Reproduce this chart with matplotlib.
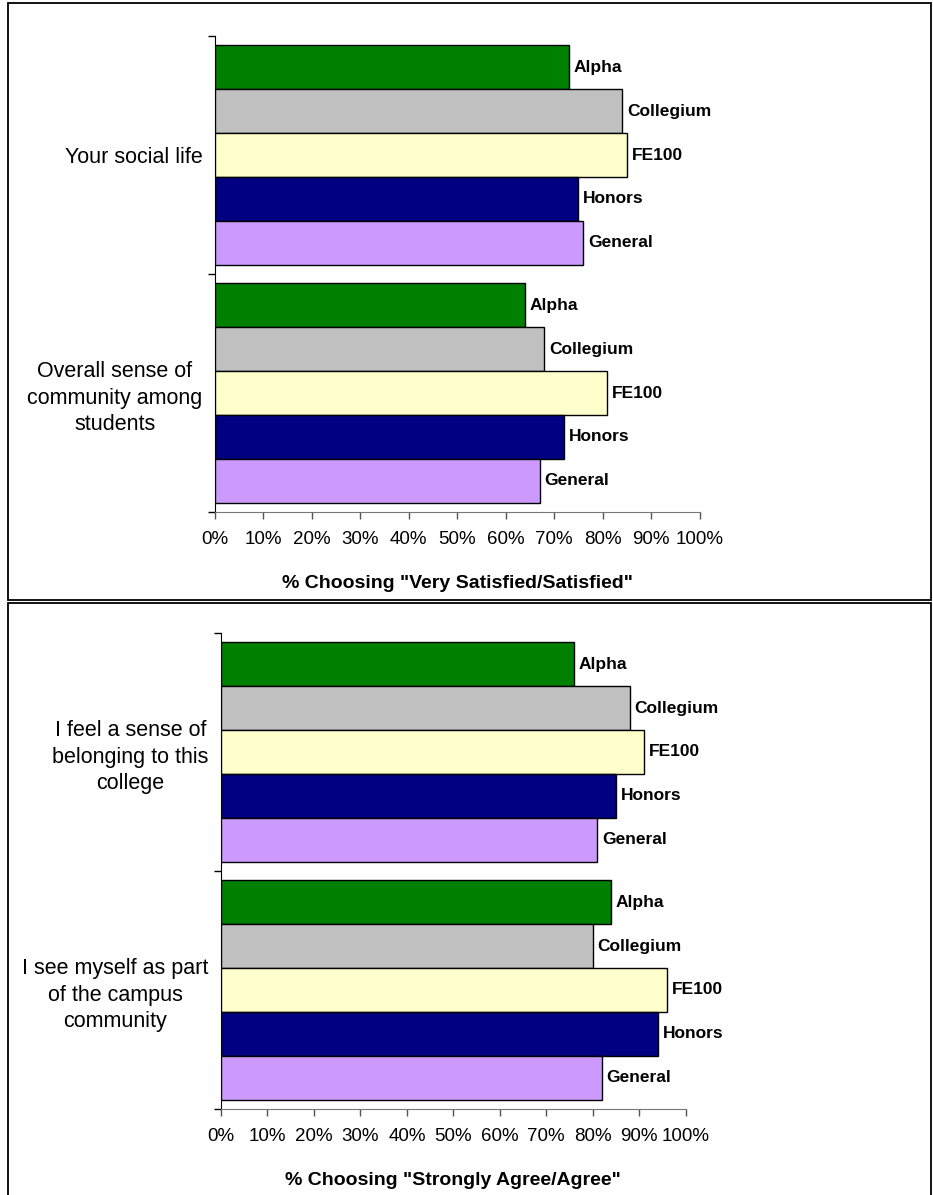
import matplotlib
matplotlib.use('Agg')
import matplotlib.pyplot as plt
from matplotlib.patches import Rectangle
import numpy as np

# --- data ---
series = ['Alpha', 'Collegium', 'FE100', 'Honors', 'General']
colors = ['#008000', '#C0C0C0', '#FFFFCC', '#000080', '#CC99FF']

top_items = ['Your social life', 'Overall sense of\ncommunity among\nstudents']
top_alpha = [73, 64]
top_collegium = [84, 68]
top_fe100 = [85, 81]
top_honors = [75, 72]
top_general = [76, 67]
top_xlabel = '% Choosing "Very Satisfied/Satisfied"'

bot_items = ['I feel a sense of\nbelonging to this\ncollege', 'I see myself as part\nof the campus\ncommunity']
bot_alpha = [76, 84]
bot_collegium = [88, 80]
bot_fe100 = [91, 96]
bot_honors = [85, 94]
bot_general = [81, 82]
bot_xlabel = '% Choosing "Strongly Agree/Agree"'

xticks = list(range(0, 101, 10))
xtick_labels = [f'{t}%' for t in xticks]

W, H = 933, 1195
fig = plt.figure(figsize=(W / 100, H / 100), dpi=100)
plt.rcParams['font.family'] = ['Liberation Sans', 'DejaVu Sans']


def px_axes(left, top, right, bottom):
    return fig.add_axes([left / W, 1 - bottom / H, (right - left) / W, (bottom - top) / H])


def draw_panel(ax, items, vals, xlabel):
    n = len(series)
    h = 0.924 / n
    cats = np.arange(len(items))
    for j, (name, col) in enumerate(zip(series, colors)):
        ys = cats + (j - (n - 1) / 2) * h
        ax.barh(ys, vals[j], height=h, color=col, edgecolor='black', linewidth=1.0, zorder=3)
        for y, v in zip(ys, vals[j]):
            ax.text(v + 1.0, y, name, va='center', ha='left', fontsize=12.5,
                    fontweight='bold')
    ax.set_xlim(0, 100)
    ax.set_ylim(len(items) - 0.5, -0.5)
    ax.set_xticks(xticks)
    ax.set_xticklabels(xtick_labels, fontsize=13.5)
    ax.set_yticks(cats)
    ax.set_yticklabels(items, fontsize=15.5, linespacing=1.35)
    for lab in ax.get_yticklabels():
        lab.set_multialignment('center')
    ax.set_yticks(np.arange(len(items) + 1) - 0.5, minor=True)
    ax.tick_params(axis='y', which='major', length=0, pad=9)
    ax.tick_params(axis='y', which='minor', length=5, width=1, color='black')
    ax.tick_params(axis='x', length=5, width=1, color='#555555', pad=9)
    for s in ['top', 'right']:
        ax.spines[s].set_visible(False)
    ax.spines['left'].set_color('black')
    ax.spines['bottom'].set_color('#777777')
    ax.set_xlabel(xlabel, fontsize=14, fontweight='bold', labelpad=19)


ax1 = px_axes(215, 36, 699.5, 512)
draw_panel(ax1, top_items, [top_alpha, top_collegium, top_fe100, top_honors, top_general], top_xlabel)

ax2 = px_axes(221, 633, 685.7, 1109)
draw_panel(ax2, bot_items, [bot_alpha, bot_collegium, bot_fe100, bot_honors, bot_general], bot_xlabel)

# outer frames of the two chart boxes
for (x0, y0, x1, y1) in [(8, 3, 931, 600), (8, 603, 931, 1200)]:
    fig.add_artist(Rectangle((x0 / W, 1 - y1 / H), (x1 - x0) / W, (y1 - y0) / H,
                             transform=fig.transFigure, fill=False,
                             edgecolor='black', linewidth=1.3))

fig.savefig('out.png', dpi=100)
